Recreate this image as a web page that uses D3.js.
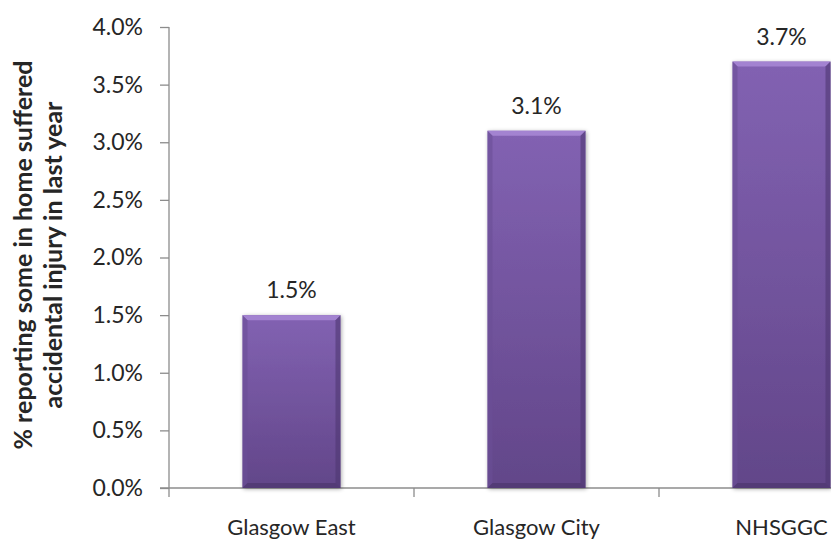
<!DOCTYPE html>
<html>
<head>
<meta charset="utf-8">
<script src="https://cdn.jsdelivr.net/npm/d3@7"></script>
<style>
  html, body { margin: 0; padding: 0; background: #fff; }
  svg { display: block; font-family: "Lato", "Open Sans", sans-serif; }
</style>
</head>
<body>
<svg id="chart" width="831" height="540"></svg>
<script>
// Share of respondents reporting someone in the home had an accidental injury
const categories = ["Glasgow East", "Glasgow City", "NHSGGC"];
const values = [1.5, 3.1, 3.7];
const yTicks = [0, 0.5, 1.0, 1.5, 2.0, 2.5, 3.0, 3.5, 4.0];
const yTitleLines = ["% reporting some in home suffered", "accidental injury in last year"];

const svg = d3.select("#chart");
const plot = { left: 169, right: 904, top: 27, bottom: 488 };

const x = d3.scaleBand()
  .domain(categories)
  .range([plot.left, plot.right])
  .paddingInner(0.6)
  .paddingOuter(0.3);

const y = d3.scaleLinear()
  .domain([0, 4])
  .range([plot.bottom, plot.top]);

const fmt = d => d.toFixed(1) + "%";
const axisColor = "#8c8c8c";
const textColor = "#262626";

// Gradients and shadow for the bevelled bars
const defs = svg.append("defs");
const grad = defs.append("linearGradient")
  .attr("id", "barFill").attr("x1", 0).attr("y1", 0).attr("x2", 0).attr("y2", 1);
grad.append("stop").attr("offset", "0%").attr("stop-color", "#8262b2");
grad.append("stop").attr("offset", "100%").attr("stop-color", "#624689");

const shadow = defs.append("filter").attr("id", "barShadow")
  .attr("x", "-20%").attr("y", "-20%").attr("width", "140%").attr("height", "140%");
shadow.append("feGaussianBlur").attr("in", "SourceAlpha").attr("stdDeviation", 2).attr("result", "blur");
shadow.append("feOffset").attr("in", "blur").attr("dx", 1).attr("dy", 1).attr("result", "off");
shadow.append("feComponentTransfer").attr("in", "off").attr("result", "soft")
  .append("feFuncA").attr("type", "linear").attr("slope", 0.35);
const merge = shadow.append("feMerge");
merge.append("feMergeNode").attr("in", "soft");
merge.append("feMergeNode").attr("in", "SourceGraphic");

// Y axis
const yAxis = d3.axisLeft(y).tickValues(yTicks).tickFormat(fmt).tickSize(9).tickPadding(17);
const gy = svg.append("g").attr("transform", `translate(${plot.left},0)`).call(yAxis);
gy.select(".domain").attr("stroke", axisColor).attr("stroke-width", 1.3)
  .attr("d", `M0,${plot.top}V${plot.bottom}`);
gy.selectAll(".tick line").attr("stroke", axisColor).attr("stroke-width", 1.3);
gy.selectAll(".tick text").attr("fill", textColor).style("font-size", "23px")
  .style("font-family", "Lato, sans-serif");

// X axis baseline with ticks between categories
const step = x.step();
const boundaries = categories.map(c => x(c) - step * x.paddingOuter());
const gx = svg.append("g");
gx.append("line")
  .attr("x1", plot.left - 9).attr("x2", plot.right)
  .attr("y1", plot.bottom).attr("y2", plot.bottom)
  .attr("stroke", axisColor).attr("stroke-width", 1.3);
gx.selectAll("line.xt").data(boundaries).join("line").attr("class", "xt")
  .attr("x1", d => d).attr("x2", d => d)
  .attr("y1", plot.bottom).attr("y2", plot.bottom + 9)
  .attr("stroke", axisColor).attr("stroke-width", 1.3);
gx.selectAll("text.cat").data(categories).join("text").attr("class", "cat")
  .attr("x", d => x(d) + x.bandwidth() / 2)
  .attr("y", 535)
  .attr("text-anchor", "middle")
  .attr("fill", textColor)
  .style("font-size", "22px")
  .text(d => d);

// Bars
const bev = 5;
const bars = svg.append("g").selectAll("g.bar").data(categories).join("g").attr("class", "bar");
bars.each(function(c, i) {
  const g = d3.select(this);
  const x0 = x(c), w = x.bandwidth();
  const y0 = y(values[i]), y1 = y(0);
  g.append("rect").attr("x", x0).attr("y", y0).attr("width", w).attr("height", y1 - y0)
    .attr("fill", "url(#barFill)").attr("filter", "url(#barShadow)");
  // top bevel
  g.append("path")
    .attr("d", `M${x0},${y0}H${x0 + w}L${x0 + w - bev},${y0 + bev}H${x0 + bev}Z`)
    .attr("fill", "#a98ad6").attr("opacity", 0.85);
  // left bevel
  g.append("path")
    .attr("d", `M${x0},${y0}L${x0 + bev},${y0 + bev}V${y1 - bev}L${x0},${y1}Z`)
    .attr("fill", "#6b4f96").attr("opacity", 0.6);
  // right bevel
  g.append("path")
    .attr("d", `M${x0 + w},${y0}L${x0 + w - bev},${y0 + bev}V${y1 - bev}L${x0 + w},${y1}Z`)
    .attr("fill", "#4f3772").attr("opacity", 0.6);
  // bottom bevel
  g.append("path")
    .attr("d", `M${x0},${y1}L${x0 + bev},${y1 - bev}H${x0 + w - bev}L${x0 + w},${y1}Z`)
    .attr("fill", "#4a3469").attr("opacity", 0.6);
});

// Value labels
svg.append("g").selectAll("text").data(categories).join("text")
  .attr("x", d => x(d) + x.bandwidth() / 2)
  .attr("y", (d, i) => y(values[i]) - 17)
  .attr("text-anchor", "middle")
  .attr("fill", textColor)
  .style("font-size", "23px")
  .text((d, i) => fmt(values[i]));

// Y axis title
const title = svg.append("text")
  .attr("transform", "translate(0,255) rotate(-90)")
  .attr("text-anchor", "middle")
  .attr("fill", textColor)
  .style("font-size", "25px")
  .style("font-weight", "bold");
title.selectAll("tspan").data(yTitleLines).join("tspan")
  .attr("x", 0)
  .attr("y", (d, i) => 32 + i * 30)
  .text(d => d);
</script>
</body>
</html>
